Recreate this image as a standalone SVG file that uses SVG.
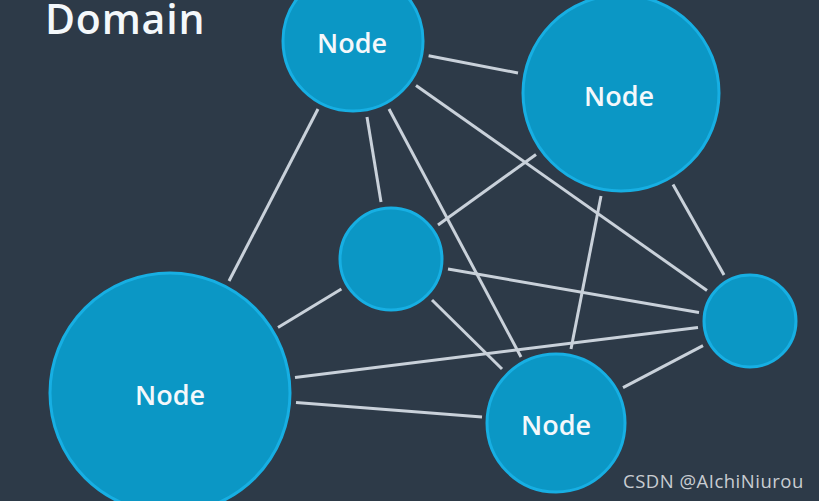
<svg xmlns="http://www.w3.org/2000/svg" width="819" height="501" viewBox="0 0 819 501">
<style>
.edge{stroke:#c9d1da;stroke-width:3;stroke-linecap:butt;fill:none}
.node circle{fill:#0b97c5;stroke:#17afe3;stroke-width:3}
.label{font-family:"Open Sans","Noto Sans","Liberation Sans",sans-serif;font-size:27px;font-weight:600;fill:#f4f8fb;text-anchor:middle}
.title{font-family:"Open Sans","Noto Sans","Liberation Sans",sans-serif;font-size:41px;font-weight:600;letter-spacing:0.8px;fill:#f4f8fb}
.wm{font-family:"Open Sans","Noto Sans","Liberation Sans",sans-serif;font-size:18.5px;letter-spacing:0.5px;fill:#c9cdd2}
</style>
<rect x="0" y="0" width="819" height="501" fill="#2d3a48"/>
<text class="title" x="45" y="34">Domain</text>
<g id="connectors">
<line class="edge" x1="428.6" y1="55.7" x2="518" y2="73"/>
<line class="edge" x1="318" y1="109" x2="229" y2="281"/>
<line class="edge" x1="367" y1="117" x2="381" y2="202"/>
<line class="edge" x1="389" y1="109" x2="521" y2="357"/>
<line class="edge" x1="416" y1="85.4" x2="707" y2="290.5"/>
<line class="edge" x1="536" y1="154.5" x2="438" y2="225"/>
<line class="edge" x1="601" y1="196" x2="571" y2="349"/>
<line class="edge" x1="673" y1="184.4" x2="724" y2="275"/>
<line class="edge" x1="341.4" y1="289" x2="278" y2="327.5"/>
<line class="edge" x1="448" y1="269" x2="699" y2="312.5"/>
<line class="edge" x1="432" y1="300" x2="502" y2="369"/>
<line class="edge" x1="295" y1="377.5" x2="698" y2="327.5"/>
<line class="edge" x1="296" y1="402.5" x2="482" y2="417"/>
<line class="edge" x1="623" y1="387.6" x2="703" y2="345.7"/>
</g>
<g id="node-a" class="node"><circle cx="353" cy="41" r="70"/><text class="label" x="352" y="53">Node</text></g>
<g id="node-b" class="node"><circle cx="621" cy="93" r="98"/><text class="label" x="619" y="106">Node</text></g>
<g id="node-c" class="node"><circle cx="391" cy="259" r="51"/></g>
<g id="node-d" class="node"><circle cx="750" cy="321" r="46"/></g>
<g id="node-e" class="node"><circle cx="170" cy="393" r="120"/><text class="label" x="170" y="405">Node</text></g>
<g id="node-f" class="node"><circle cx="556" cy="423" r="69"/><text class="label" x="556" y="435">Node</text></g>
<text class="wm" x="623" y="488">CSDN @AIchiNiurou</text>
</svg>
